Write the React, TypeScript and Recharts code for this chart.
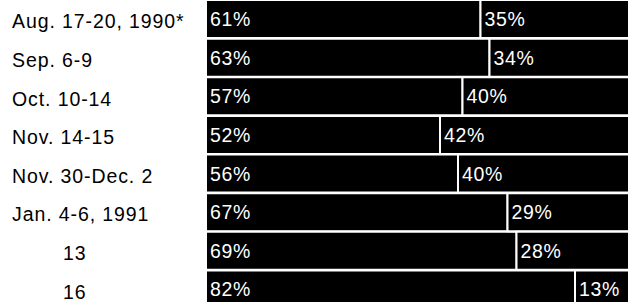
import { Bar, BarChart, LabelList, XAxis, YAxis } from 'recharts'

const dates = [
	'Aug. 17-20, 1990*',
	'Sep. 6-9',
	'Oct. 10-14',
	'Nov. 14-15',
	'Nov. 30-Dec. 2',
	'Jan. 4-6, 1991',
	'13',
	'16'
]
const approve = [61, 63, 57, 52, 56, 67, 69, 82]
const disapprove = [35, 34, 40, 42, 40, 29, 28, 13]

const data = dates.map((date, i) => ({
	date,
	approve: approve[i],
	disapprove: disapprove[i]
}))

const font = '"Liberation Sans", Arial, Helvetica, sans-serif'

function DateTick({ y, payload }: any) {
	const label = String(payload.value)
	// the bare day numbers sit indented under the month rows
	const x = label.length <= 2 ? 63 : 12
	return (
		<text
			x={x}
			y={y + 2}
			dominantBaseline='central'
			textAnchor='start'
			fill='#000'
			fontSize={19.5}
			fontFamily={font}
			letterSpacing={0.9}
		>
			{label}
		</text>
	)
}

function PctLabel({ x, y, height, value }: any) {
	return (
		<text
			x={x + 4}
			y={y + height / 2}
			dominantBaseline='central'
			fill='#fff'
			fontSize={19.5}
			fontFamily={font}
			letterSpacing={0.7}
		>
			{value}%
		</text>
	)
}

export default function App() {
	return (
		<div
			style={{
				position: 'absolute',
				left: 0,
				top: 0,
				width: 628,
				height: 302,
				overflow: 'hidden',
				background: '#fff'
			}}
		>
			<BarChart
				width={656}
				height={309}
				data={data}
				layout='vertical'
				margin={{ top: 0, right: 0, bottom: 0, left: 0 }}
			>
				<XAxis type='number' domain={[0, 100]} hide />
				<YAxis
					type='category'
					dataKey='date'
					width={206}
					axisLine={false}
					tickLine={false}
					tick={<DateTick />}
					interval={0}
				/>
				<Bar
					dataKey='approve'
					stackId='a'
					fill='#000'
					stroke='#fff'
					strokeWidth={2}
					barSize={38}
					isAnimationActive={false}
				>
					<LabelList dataKey='approve' content={<PctLabel />} />
				</Bar>
				<Bar
					dataKey='disapprove'
					stackId='a'
					fill='#000'
					stroke='#fff'
					strokeWidth={2}
					barSize={38}
					isAnimationActive={false}
				>
					<LabelList dataKey='disapprove' content={<PctLabel />} />
				</Bar>
			</BarChart>
		</div>
	)
}
